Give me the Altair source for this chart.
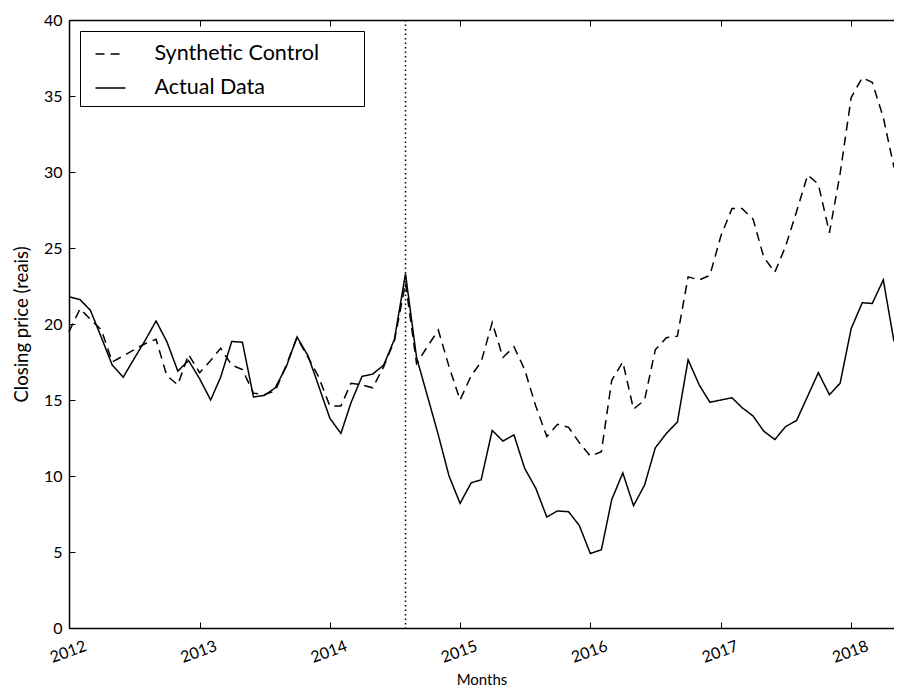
import altair as alt
import pandas as pd

# Monthly dates (first of month), Jan 2012 .. May 2018
months = pd.date_range("2012-01-01", "2018-05-01", freq="MS").strftime("%Y-%m-%d").tolist()

synthetic = [
    19.5, 21.0, 20.3, 19.6, 17.5, 17.9, 18.3, 18.7, 19.0, 16.6, 16.0, 18.0,
    16.8, 17.6, 18.4, 17.3, 17.0, 15.45, 15.35, 15.6, 17.3, 19.1, 17.8, 16.5,
    14.6, 14.6, 16.1, 16.0, 15.8, 17.2, 18.9, 22.7, 17.4, 18.5, 19.6, 17.2,
    15.0, 16.6, 17.5, 20.1, 17.8, 18.5, 17.0, 14.6, 12.6, 13.4, 13.2, 12.2,
    11.3, 11.6, 16.3, 17.5, 14.4, 15.0, 18.3, 19.1, 19.2, 23.1, 22.9, 23.2,
    25.8, 27.6, 27.6, 26.9, 24.4, 23.4, 25.1, 27.4, 29.8, 29.2, 26.0, 29.9,
    34.9, 36.2, 35.9, 33.6, 30.3,
]

actual = [
    21.8, 21.6, 20.9, 19.1, 17.3, 16.5, 17.7, 18.9, 20.2, 18.85, 16.9, 17.6,
    16.4, 15.0, 16.5, 18.85, 18.8, 15.2, 15.3, 15.8, 17.2, 19.15, 17.9, 15.9,
    13.8, 12.8, 14.8, 16.55, 16.7, 17.3, 19.0, 23.3, 17.8, 15.3, 12.7, 10.0,
    8.2, 9.55, 9.75, 13.0, 12.3, 12.7, 10.5, 9.2, 7.3, 7.7, 7.65, 6.75,
    4.9, 5.15, 8.45, 10.2, 8.05, 9.4, 11.85, 12.8, 13.55, 17.65, 16.0, 14.85,
    15.0, 15.15, 14.5, 13.95, 12.95, 12.4, 13.25, 13.65, 15.25, 16.8, 15.35, 16.1,
    19.7, 21.4, 21.35, 22.9, 18.85,
]

series_names = ["Synthetic Control", "Actual Data"]
event_dates = ["2014-08-01"]
year_ticks = list(range(2012, 2019))
y_ticks = [0, 5, 10, 15, 20, 25, 30, 35, 40]

df = pd.DataFrame({
    "date": months * 2,
    "value": synthetic + actual,
    "series": [series_names[0]] * len(synthetic) + [series_names[1]] * len(actual),
})
ev = pd.DataFrame({"date": event_dates})

x_domain = [alt.DateTime(year=2012, month=1, date=1, utc=True),
            alt.DateTime(year=2018, month=5, date=1, utc=True)]
x_scale = alt.Scale(type="utc", domain=x_domain, nice=False)
y_scale = alt.Scale(domain=[0, 40], nice=False)
x_vals = [alt.DateTime(year=y, month=1, date=1, utc=True) for y in year_ticks]

FONT = "Lato"
pad = "\u00a0" + "\u2800" * 2


def tick_axis(orient, values):
    # inward ticks: axis shifted inside the plot by its tick length
    return alt.Axis(orient=orient, values=values, offset=-6, tickSize=6,
                    ticks=True, labels=False, domain=False, grid=False,
                    tickColor="black", tickWidth=1, title=None)


def spine_axis(orient, values):
    return alt.Axis(orient=orient, values=values, ticks=False, tickSize=0,
                    labels=False, domain=True, domainColor="black",
                    domainWidth=1.5, grid=False, title=None)


lines = alt.Chart(df).mark_line(color="black", strokeWidth=1.5).encode(
    x=alt.X("date:T", scale=x_scale, title="Months",
            axis=alt.Axis(orient="bottom", values=x_vals, format="%Y", formatType="utc",
                          labelAngle=340, labelAlign="center", labelBaseline="top",
                          labelPadding=16, labelOffset=-4, labelFontSize=16,
                          ticks=False, tickSize=0, domain=True,
                          domainColor="black", domainWidth=1.5, grid=False,
                          labelColor="black",
                          titleFontSize=15, titleFontWeight="normal",
                          titlePadding=7, titleColor="black")),
    y=alt.Y("value:Q", scale=y_scale, title="Closing price (reais)",
            axis=alt.Axis(orient="left", values=y_ticks, ticks=False, tickSize=0,
                          domain=True, domainColor="black", domainWidth=1.5,
                          grid=False, labelPadding=7, labelFontSize=16,
                          labelColor="black",
                          titleFontSize=18.5, titleFontWeight="normal",
                          titlePadding=12, titleColor="black")),
    strokeDash=alt.StrokeDash("series:N",
        scale=alt.Scale(domain=series_names, range=[[9, 6], [1, 0]]),
        legend=alt.Legend(orient="top-left", offset=11, title=None,
                          padding=7, symbolSize=900, symbolStrokeWidth=1.5,
                          symbolStrokeColor="black", symbolType="stroke",
                          symbolOffset=7.5, labelOffset=28, labelFontSize=21.5,
                          labelLimit=400,
                          labelColor="black", strokeColor="black",
                          fillColor="white", rowPadding=7,
                          labelExpr="datum.label + '" + pad + "'")),
)

rule = alt.Chart(ev).mark_rule(color="black", strokeWidth=1.5, strokeDash=[1.5, 3]).encode(
    x=alt.X("date:T", scale=x_scale, axis=spine_axis("top", x_vals)),
)

ticks_bl = alt.Chart(df).mark_point(opacity=0).encode(
    x=alt.X("date:T", scale=x_scale, axis=tick_axis("bottom", x_vals)),
    y=alt.Y("value:Q", scale=y_scale, axis=tick_axis("left", y_ticks)),
)

ticks_top = alt.Chart(ev).mark_rule(opacity=0).encode(
    x=alt.X("date:T", scale=x_scale, axis=tick_axis("top", x_vals)),
)

chart = alt.layer(lines, rule, ticks_bl, ticks_top).resolve_axis(
    x="independent", y="independent"
).properties(
    width=825, height=608,
    padding={"left": 61, "top": 12, "right": 0, "bottom": 60},
    autosize=alt.AutoSizeParams(type="none"),
).configure(font=FONT).configure_view(strokeWidth=0)

chart.save("out.html", embed_options={"renderer": "svg", "actions": False})
